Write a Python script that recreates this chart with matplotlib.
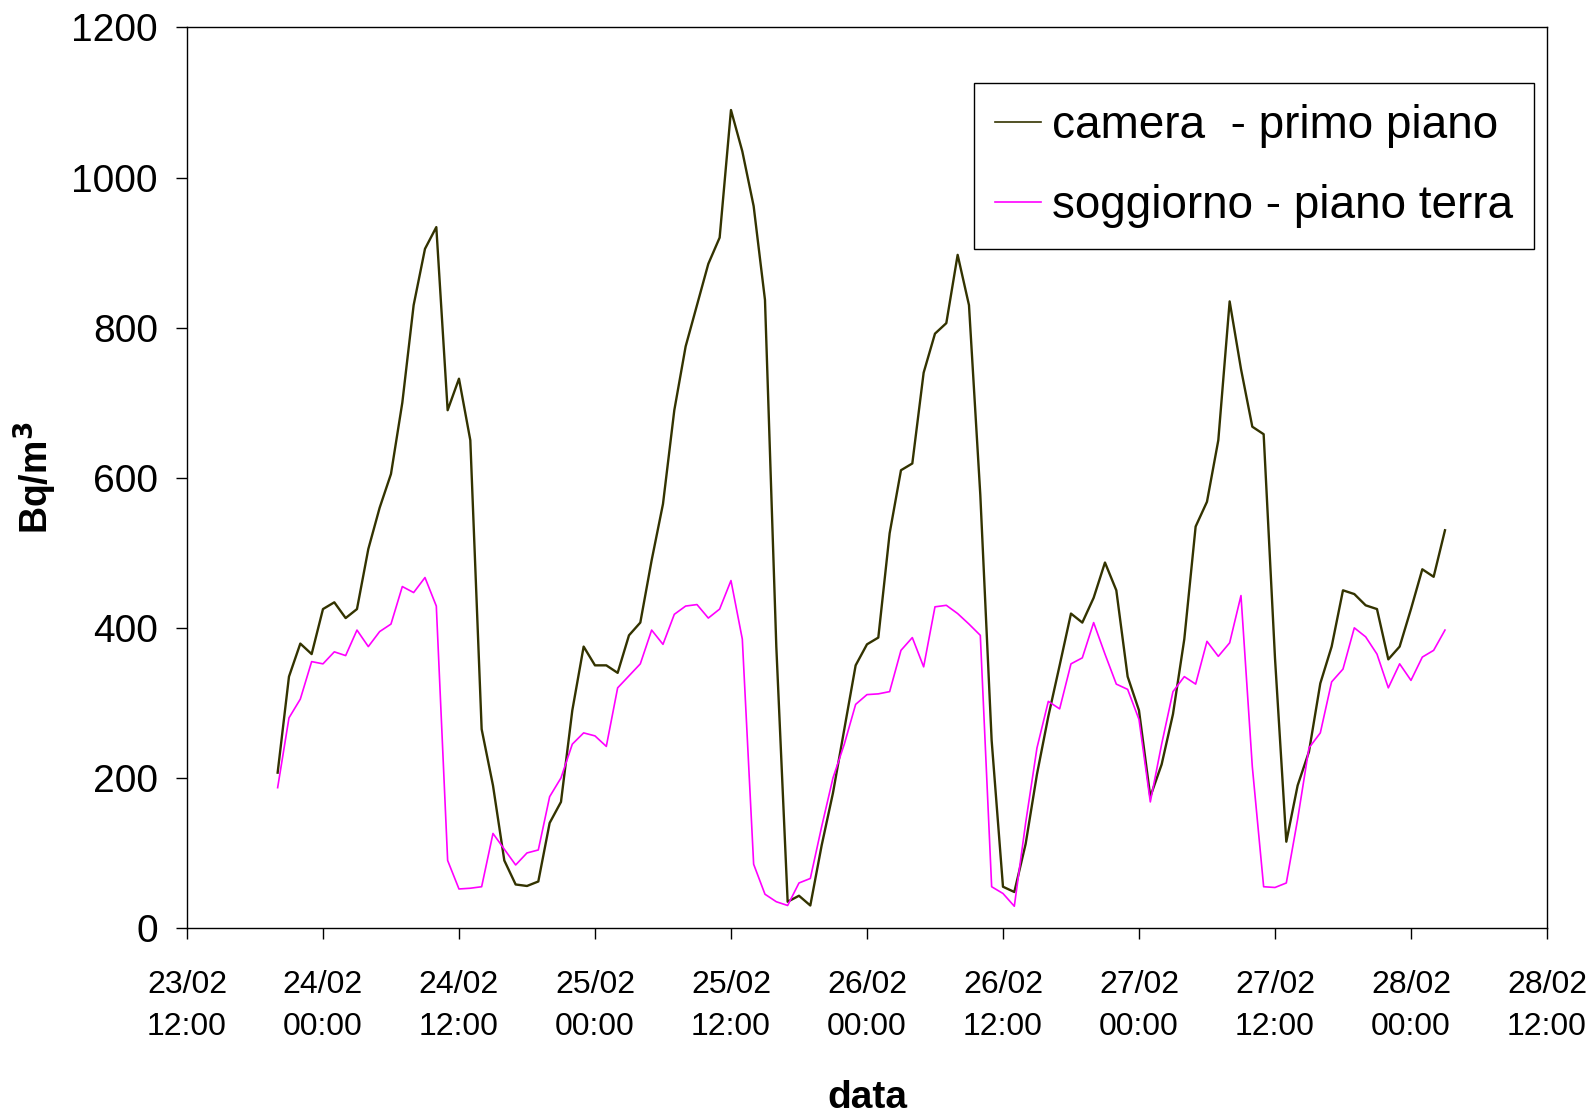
import matplotlib
matplotlib.use("Agg")
import matplotlib.pyplot as plt
import matplotlib.dates as mdates
import pandas as pd

# hourly readings, 23/02 20:00 -> 28/02 03:00
start_time = "2009-02-23 20:00"
camera = [207, 335, 379, 365, 425, 434, 413, 425, 505, 560, 605, 700, 830, 905, 934, 690,
          732, 650, 265, 190, 90, 58, 56, 62, 140, 168, 290, 375, 350, 350, 340, 390,
          407, 490, 565, 690, 775, 830, 885, 920, 1090, 1035, 962, 837, 375, 35, 43, 30,
          110, 180, 265, 350, 378, 387, 526, 610, 619, 740, 792, 806, 897, 830, 577, 250,
          55, 48, 112, 205, 282, 350, 419, 407, 440, 487, 450, 335, 290, 175, 218, 285,
          385, 535, 568, 650, 835, 745, 668, 658, 360, 115, 190, 235, 326, 375, 450, 445,
          430, 425, 358, 375, 425, 478, 468, 530]
soggiorno = [187, 280, 305, 355, 352, 368, 363, 397, 375, 395, 405, 455, 447, 467, 429, 90,
             52, 53, 55, 126, 105, 84, 100, 104, 175, 200, 245, 260, 256, 242, 320, 336,
             352, 397, 378, 418, 429, 431, 413, 425, 463, 385, 85, 45, 35, 30, 60, 66,
             135, 200, 245, 298, 311, 312, 315, 370, 387, 348, 428, 430, 419, 405, 390, 55,
             46, 29, 140, 240, 302, 292, 352, 360, 407, 365, 325, 318, 278, 168, 245, 315,
             335, 325, 382, 362, 380, 443, 215, 55, 54, 60, 145, 240, 260, 328, 345, 400,
             388, 365, 320, 352, 330, 361, 370, 397]
series_labels = ["camera  - primo piano", "soggiorno - piano terra"]
x_start, x_end = "2009-02-23 12:00", "2009-02-28 12:00"
y_ticks = [0, 200, 400, 600, 800, 1000, 1200]

times = pd.date_range(start_time, periods=len(camera), freq="h")

plt.rcParams['font.family'] = ['Liberation Sans', 'DejaVu Sans']

fig = plt.figure(figsize=(15.94, 11.17), dpi=100)
ax = fig.add_axes([0.1173, 0.1692, 0.9705 - 0.1173, 0.9754 - 0.1692])

ax.plot(times, camera, color='#333300', lw=1.7, label=series_labels[0])
ax.plot(times, soggiorno, color='#ff00ff', lw=1.2, label=series_labels[1])

ax.set_xlim(pd.Timestamp(x_start), pd.Timestamp(x_end))
ax.set_ylim(0, 1200)
ax.set_yticks(y_ticks)
ax.xaxis.set_major_locator(mdates.HourLocator(byhour=[0, 12]))
ax.xaxis.set_major_formatter(mdates.DateFormatter('%d/%m\n%H:%M'))

ax.tick_params(axis='y', direction='out', length=8, width=1, labelsize=28, pad=13)
ax.tick_params(axis='x', direction='out', length=8, width=1, labelsize=23, pad=22)
for lab in ax.get_xticklabels():
    lab.set_linespacing(1.55)
for sp in ax.spines.values():
    sp.set_linewidth(1.0)
    sp.set_color('black')

ax.set_ylabel('Bq/m$^\\mathbf{3}$', fontsize=27, fontweight='bold')
ax.yaxis.set_label_coords(-0.094, 0.5)
ax.set_xlabel('data', fontsize=28, fontweight='bold')
ax.xaxis.set_label_coords(0.5, -0.169)

leg = ax.legend(loc='upper right', bbox_to_anchor=(0.9624, 0.9257),
                bbox_transform=fig.transFigure, borderaxespad=0,
                fontsize=33, frameon=True, fancybox=False, framealpha=1,
                edgecolor='black', handlelength=1.0, handletextpad=0.25,
                borderpad=0.45, labelspacing=0.8)
leg.get_frame().set_linewidth(1.0)
for line in leg.get_lines():
    line.set_linewidth(1.2)

fig.savefig('out.png', dpi=100)
